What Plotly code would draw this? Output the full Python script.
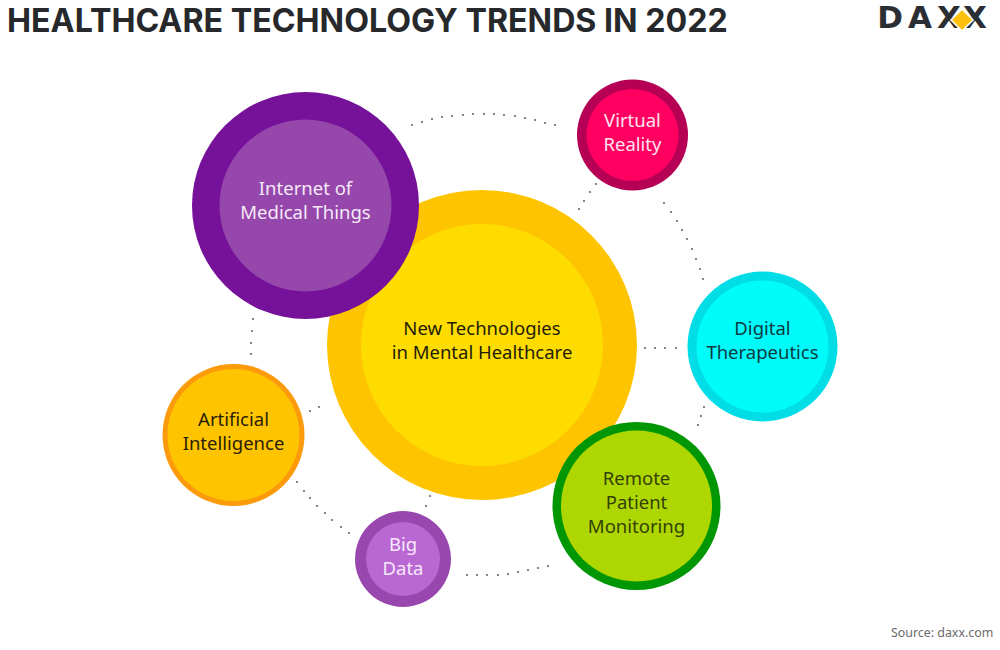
import plotly.graph_objects as go

# Circles, drawn in this order so the big centre sits under Internet of Things and Remote Monitoring
labels = [
    "New Technologies<br>in Mental Healthcare",
    "Internet of<br>Medical Things",
    "Virtual<br>Reality",
    "Digital<br>Therapeutics",
    "Remote<br>Patient<br>Monitoring",
    "Big<br>Data",
    "Artificial<br>Intelligence",
]
center_x = [482, 305.5, 632.5, 762.5, 636.5, 403, 233.5]
center_y = [345, 205.5, 135, 346.5, 506, 559, 435]
label_y = [342, 202.5, 134, 342.5, 504.5, 558.5, 433]
outer_diam = [310, 227, 111, 150, 168, 96, 142]
inner_diam = [242, 172, 92, 132, 151, 74, 132]
outer_colors = ["#ffc400", "#761199", "#b60056", "#00dde6", "#009604", "#9747ad", "#fb9a0b"]
inner_colors = ["#ffdc00", "#9547ab", "#ff0060", "#00fbfb", "#aed600", "#b968d3", "#ffc400"]
text_colors = ["#231c08", "#f6e9f8", "#fbe3ef", "#0b3a40", "#33410a", "#f7e9fb", "#2a1e05"]

# Dotted connectors, read dot by dot
dots_x = [412, 422, 432, 442, 452, 463, 473, 484, 494, 504, 515, 525, 535, 545, 555,
          596, 590, 584, 579,
          664, 671, 677, 682, 687, 692, 696, 700, 703,
          645, 655, 665, 676,
          704, 701, 698,
          253, 252, 251, 251,
          310, 319,
          297, 304, 310, 317, 325, 332, 341, 349,
          430, 426,
          467, 477, 487, 498, 508, 518, 528, 538, 548]
dots_y = [125, 122, 119, 117, 116, 115, 114, 114, 114, 115, 116, 118, 120, 123, 125,
          184, 192, 201, 209,
          203, 212, 221, 230, 239, 249, 259, 269, 279,
          348, 348, 348, 348,
          407, 416, 425,
          319, 331, 343, 354,
          411, 407,
          482, 491, 498, 506, 513, 520, 527, 533,
          496, 506,
          575, 575, 575, 575, 574, 572, 570, 568, 566]

logo_letters = ["D", "A", "X", "X"]
logo_x = [890, 920, 949, 975]

fig = go.Figure()

fig.add_trace(go.Scatter(x=dots_x, y=dots_y, mode="markers",
                         marker=dict(size=2.2, color="#666a6e"), hoverinfo="skip"))

for i, label in enumerate(labels):
    fig.add_trace(go.Scatter(x=[center_x[i]], y=[center_y[i]], mode="markers",
                             marker=dict(size=outer_diam[i], color=outer_colors[i], line_width=0)))
    fig.add_trace(go.Scatter(x=[center_x[i]], y=[center_y[i]], mode="markers",
                             marker=dict(size=inner_diam[i], color=inner_colors[i], line_width=0)))
    fig.add_trace(go.Scatter(x=[center_x[i]], y=[label_y[i]], mode="text",
                             text=[label], textposition="middle center",
                             textfont=dict(family="Noto Sans", size=18.5, color=text_colors[i])))

# logo
fig.add_trace(go.Scatter(x=logo_x, y=[20] * 4, mode="text", text=logo_letters,
                         textposition="middle center",
                         textfont=dict(family="DejaVu Sans", size=31, color="#2b2e33", weight="bold")))
fig.add_trace(go.Scatter(x=[962], y=[20], mode="markers",
                         marker=dict(symbol="diamond", size=17, color="#fdc10d",
                                     line=dict(color="white", width=1.5))))

fig.add_annotation(x=5, y=20, xanchor="left", yanchor="middle", showarrow=False,
                   text="HEALTHCARE TECHNOLOGY TRENDS IN 2022",
                   font=dict(family="Inter", size=32.2, color="#26282b", weight="bold"))
fig.add_annotation(x=995, y=632, xanchor="right", yanchor="middle", showarrow=False,
                   text="Source: daxx.com",
                   font=dict(family="Noto Sans", size=12.4, color="#6a6a6a"))

fig.update_xaxes(range=[0, 1000], visible=False, fixedrange=True)
fig.update_yaxes(range=[650, 0], visible=False, fixedrange=True)
fig.update_layout(width=1000, height=650, margin=dict(l=0, r=0, t=0, b=0),
                  showlegend=False, paper_bgcolor="white", plot_bgcolor="white")

# default page has an 8px body margin that would shift everything
fig.write_html("out.html", config={"displayModeBar": False},
               post_script="document.body.style.margin='0';")
